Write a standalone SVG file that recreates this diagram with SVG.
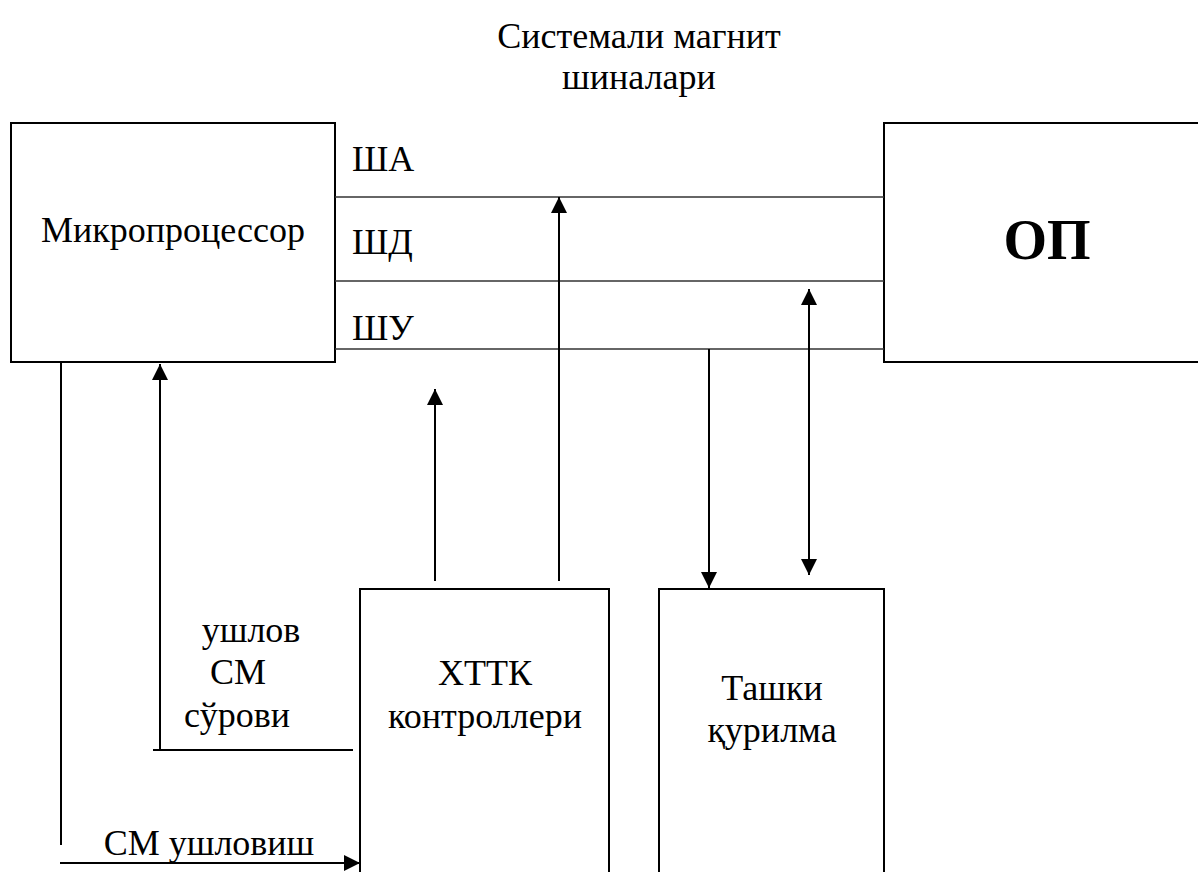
<svg xmlns="http://www.w3.org/2000/svg" width="1198" height="872" viewBox="0 0 1198 872">
  <style>
    .box { fill: #fff; stroke: #000; stroke-width: 2; }
    .bus { stroke: #333; stroke-width: 1.6; fill: none; }
    .wire { stroke: #000; stroke-width: 2; fill: none; }
    .lbl { font-family: "Liberation Serif", "Times New Roman", serif; font-size: 36px; fill: #000; }
    .mid { text-anchor: middle; }
    .big { font-size: 56px; font-weight: bold; }
  </style>
  <defs>
    <marker id="arrow" viewBox="0 0 16 16" refX="16" refY="8" markerWidth="16" markerHeight="16" markerUnits="userSpaceOnUse" orient="auto-start-reverse">
      <path d="M0,0 L16,8 L0,16 Z" fill="#000"/>
    </marker>
  </defs>
  <rect width="1198" height="872" fill="#fff"/>

  <!-- title over the bus lines -->
  <g id="title">
    <text class="lbl mid" x="639" y="48">Системали магнит</text>
    <text class="lbl mid" x="639" y="89">шиналари</text>
  </g>

  <g id="cpu">
    <rect class="box" x="11" y="123" width="324" height="239"/>
    <text class="lbl mid" x="173" y="242">Микропроцессор</text>
  </g>

  <g id="ram">
    <rect class="box" x="884" y="123" width="330" height="239"/>
    <text class="lbl mid big" x="1047" y="259">ОП</text>
  </g>

  <g id="dma">
    <rect class="box" x="360" y="589" width="249" height="300"/>
    <text class="lbl mid" x="485" y="685">ХТТК</text>
    <text class="lbl mid" x="485" y="728">контроллери</text>
  </g>

  <g id="device">
    <rect class="box" x="659" y="589" width="225" height="300"/>
    <text class="lbl mid" x="772" y="700">Ташки</text>
    <text class="lbl mid" x="772" y="742">қурилма</text>
  </g>

  <!-- system bus: address, data, control -->
  <g id="buses">
    <line class="bus" x1="335" y1="197" x2="884" y2="197"/>
    <line class="bus" x1="335" y1="281" x2="884" y2="281"/>
    <line class="bus" x1="335" y1="349" x2="884" y2="349"/>
    <text class="lbl" x="352" y="171">ША</text>
    <text class="lbl" x="352" y="254">ШД</text>
    <text class="lbl" x="352" y="340">ШУ</text>
  </g>

  <g id="connectors">
    <line class="wire" x1="435" y1="581" x2="435" y2="389" marker-end="url(#arrow)"/>
    <line class="wire" x1="559" y1="581" x2="559" y2="197" marker-end="url(#arrow)"/>
    <line class="wire" x1="709" y1="349" x2="709" y2="588" marker-end="url(#arrow)"/>
    <line class="wire" x1="809" y1="289" x2="809" y2="575" marker-start="url(#arrow)" marker-end="url(#arrow)"/>
    <!-- request line back to the CPU -->
    <polyline class="wire" points="353,750 160,750 160,364" marker-end="url(#arrow)"/>
    <line class="wire" x1="153" y1="750" x2="160" y2="750"/>
    <!-- grant line from the CPU -->
    <line class="wire" x1="61" y1="362" x2="61" y2="845"/>
    <line class="wire" x1="60" y1="863" x2="360" y2="863" marker-end="url(#arrow)"/>
  </g>

  <g id="signal-labels">
    <text class="lbl mid" x="251" y="642">ушлов</text>
    <text class="lbl mid" x="238" y="684">СМ</text>
    <text class="lbl mid" x="237" y="727">сўрови</text>
    <text class="lbl mid" x="209" y="855">СМ ушловиш</text>
  </g>
</svg>
